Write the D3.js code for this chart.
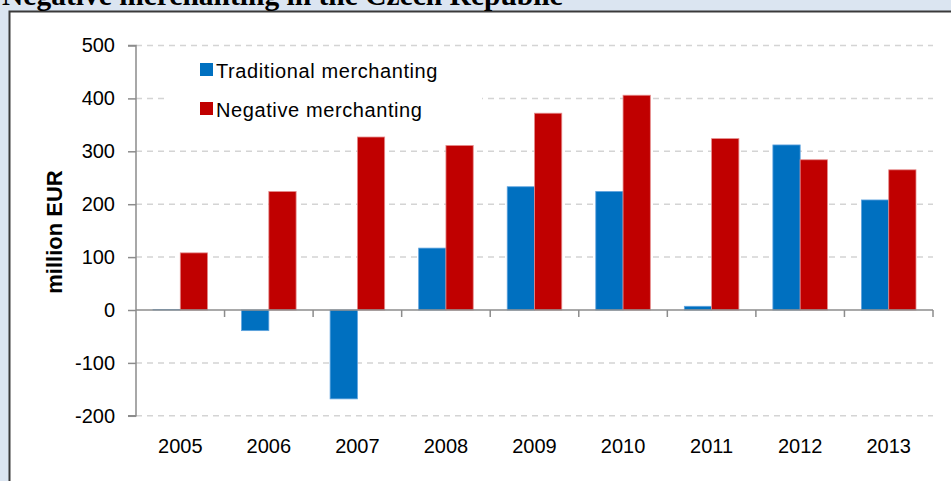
<!DOCTYPE html>
<html>
<head>
<meta charset="utf-8">
<script src="https://cdn.jsdelivr.net/npm/d3@7"></script>
<style>
  html, body { margin: 0; padding: 0; background: #dbe5f1; }
  svg { display: block; }
</style>
</head>
<body>
<svg id="chart" width="951" height="481"></svg>
<script>
const years = ["2005","2006","2007","2008","2009","2010","2011","2012","2013"];
const traditional = [1, -39, -168, 117, 233, 224, 7, 312, 208];
const negative = [108, 224, 327, 311, 372, 406, 324, 284, 265];
const seriesNames = ["Traditional merchanting", "Negative merchanting"];
const seriesColors = ["#0070c0", "#c00000"];
const seriesStrokes = ["#5fa3de", "#e58c8c"];
const yTicks = [-200, -100, 0, 100, 200, 300, 400, 500];
const title = "Negative merchanting in the Czech Republic";
const yLabel = "million EUR";

const svg = d3.select("#chart");
const W = 951, H = 481;

// background
svg.append("rect").attr("width", W).attr("height", H).attr("fill", "#dbe5f1");
// frame
svg.append("rect").attr("x", 9.5).attr("y", 11.5).attr("width", W + 20).attr("height", H + 20)
  .attr("fill", "#ffffff").attr("stroke", "#3a3a3a").attr("stroke-width", 2);

// title (clipped at top, as in the reference)
svg.append("text").attr("x", 2).attr("y", 5)
  .attr("font-family", "'Liberation Serif', 'Times New Roman', serif")
  .attr("font-weight", "bold").attr("font-size", 29.5).attr("fill", "#000")
  .text(title);

const plot = { left: 136, right: 933, top: 45.5, bottom: 415.8 };
const y = d3.scaleLinear().domain([-200, 500]).range([plot.bottom, plot.top]);
const x = d3.scaleBand().domain(years).range([plot.left, plot.right]).padding(0);
const groupFrac = 0.616;
const x1 = d3.scaleBand().domain(seriesNames)
  .range([x.bandwidth() * (1 - groupFrac) / 2, x.bandwidth() * (1 + groupFrac) / 2]).padding(0);

// gridlines
svg.append("g").selectAll("line").data(yTicks.filter(d => d !== 0)).join("line")
  .attr("x1", plot.left).attr("x2", plot.right)
  .attr("y1", d => y(d)).attr("y2", d => y(d))
  .attr("stroke", "#d4d4d4").attr("stroke-width", 1.5).attr("stroke-dasharray", "6,5");

// bars
const data = years.map((yr, i) => ({ year: yr, vals: [traditional[i], negative[i]] }));
const groups = svg.append("g").selectAll("g").data(data).join("g")
  .attr("transform", d => `translate(${x(d.year)},0)`);
groups.selectAll("rect").data(d => d.vals.map((v, j) => ({ v, j }))).join("rect")
  .attr("x", d => x1(seriesNames[d.j]))
  .attr("width", x1.bandwidth())
  .attr("y", d => y(Math.max(0, d.v)))
  .attr("height", d => Math.abs(y(d.v) - y(0)))
  .attr("fill", d => seriesColors[d.j])
  .attr("stroke", d => seriesStrokes[d.j]).attr("stroke-width", 0.8);

// y axis
const yAxis = d3.axisLeft(y).tickValues(yTicks).tickSize(8).tickPadding(13).tickFormat(d => String(d));
const gy = svg.append("g").attr("transform", `translate(${plot.left},0)`).call(yAxis);
gy.select(".domain").attr("stroke", "#8c8c8c").attr("stroke-width", 1.5).attr("d", `M-8,${y(500)}H0V${y(-200)}H-8`);
gy.selectAll(".tick line").attr("stroke", "#8c8c8c").attr("stroke-width", 1.5);
gy.selectAll(".tick text").attr("font-family", "'Liberation Sans', Arial, sans-serif")
  .attr("font-size", 20).attr("fill", "#000");

// x axis at zero
const bounds = years.map(d => x(d)).concat([plot.right]);
const gx = svg.append("g");
gx.append("line").attr("x1", plot.left).attr("x2", plot.right).attr("y1", y(0)).attr("y2", y(0))
  .attr("stroke", "#8c8c8c").attr("stroke-width", 1.5);
gx.selectAll("line.tk").data(bounds.slice(1)).join("line").attr("class", "tk")
  .attr("x1", d => d).attr("x2", d => d).attr("y1", y(0)).attr("y2", y(0) + 7)
  .attr("stroke", "#8c8c8c").attr("stroke-width", 1.5);
gx.selectAll("text").data(years).join("text")
  .attr("x", d => x(d) + x.bandwidth() / 2).attr("y", 453)
  .attr("text-anchor", "middle")
  .attr("font-family", "'Liberation Sans', Arial, sans-serif").attr("font-size", 20).attr("fill", "#000")
  .text(d => d);

// y label
svg.append("text").attr("transform", "translate(62,232) rotate(-90)")
  .attr("text-anchor", "middle")
  .attr("font-family", "'Liberation Sans', Arial, sans-serif").attr("font-weight", "bold")
  .attr("font-size", 22).attr("fill", "#000").text(yLabel);

// legend
const lg = svg.append("g");
lg.append("rect").attr("x", 166).attr("y", 56).attr("width", 316).attr("height", 70).attr("fill", "#fff");
const items = lg.selectAll("g").data(seriesNames).join("g")
  .attr("transform", (d, i) => `translate(200,${63 + i * 39})`);
items.append("rect").attr("width", 13).attr("height", 13).attr("fill", (d, i) => seriesColors[i]);
items.append("text").attr("x", 16).attr("y", 14.5)
  .attr("font-family", "'Liberation Sans', Arial, sans-serif").attr("font-size", 20)
  .attr("letter-spacing", 0.6).attr("fill", "#000").text(d => d);
</script>
</body>
</html>
